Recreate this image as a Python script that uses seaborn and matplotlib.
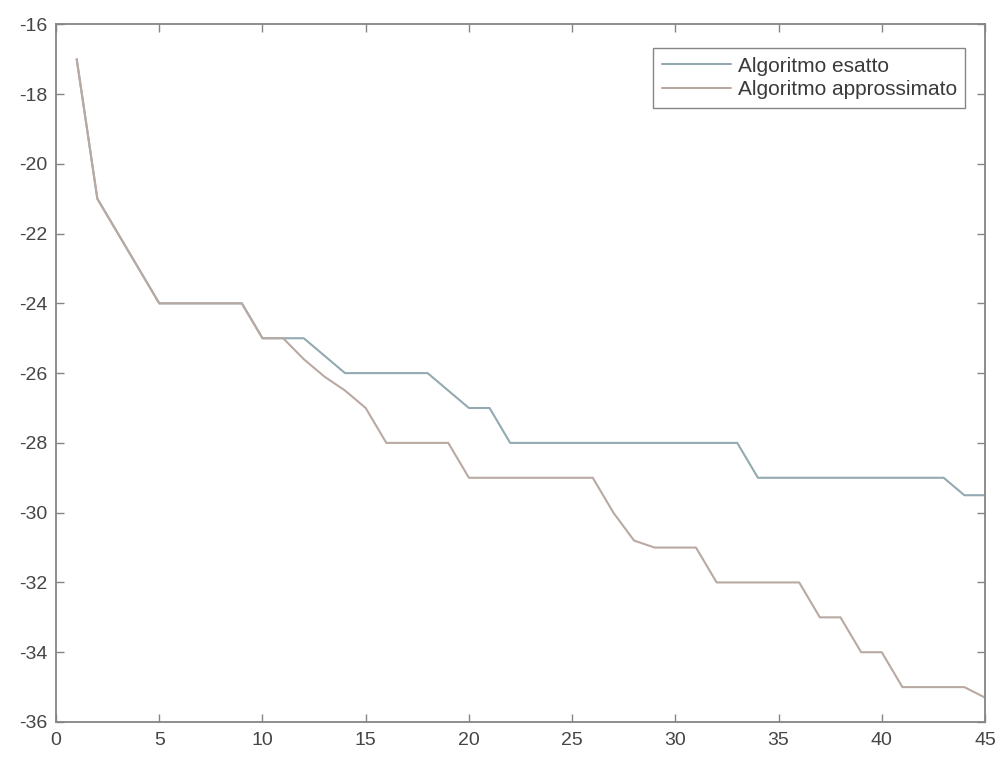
import numpy as np
import pandas as pd
import matplotlib
matplotlib.use("Agg")
import matplotlib.pyplot as plt
import seaborn as sns

# Iterations and objective values for the two algorithms
iterazioni = list(range(1, 46))
esatto = [-17, -21, -22, -23, -24, -24, -24, -24, -24, -25, -25, -25,
          -25.5, -26, -26, -26, -26, -26, -26.5, -27, -27,
          -28, -28, -28, -28, -28, -28, -28, -28, -28, -28, -28, -28,
          -29, -29, -29, -29, -29, -29, -29, -29, -29, -29,
          -29.5, -29.5]
approssimato = [-17, -21, -22, -23, -24, -24, -24, -24, -24, -25, -25,
                -25.6, -26.1, -26.5, -27,
                -28, -28, -28, -28,
                -29, -29, -29, -29, -29, -29, -29,
                -30, -30.8,
                -31, -31, -31,
                -32, -32, -32, -32, -32,
                -33, -33, -34, -34,
                -35, -35, -35, -35, -35.3]
etichette = ["Algoritmo esatto", "Algoritmo approssimato"]
x_ticks = list(range(0, 46, 5))
y_ticks = list(range(-36, -15, 2))

df = pd.DataFrame({
    "iterazione": iterazioni * 2,
    "valore": esatto + approssimato,
    "serie": [etichette[0]] * len(esatto) + [etichette[1]] * len(approssimato),
})

sns.set_style("white")
plt.rcParams["font.family"] = ["Liberation Sans", "DejaVu Sans"]
plt.rcParams["axes.unicode_minus"] = False

fig = plt.figure(figsize=(10.01, 7.58), dpi=100)
ax = fig.add_axes([0.056, 0.0475, 0.928, 0.9205])

palette = {etichette[0]: "#93aab0", etichette[1]: "#b9a9a3"}
sns.lineplot(data=df, x="iterazione", y="valore", hue="serie",
             hue_order=etichette, palette=palette, linewidth=1.5, ax=ax)

ax.set_xlim(0, 45)
ax.set_ylim(-36, -16)
ax.set_xticks(x_ticks)
ax.set_yticks(y_ticks)
ax.set_xlabel("")
ax.set_ylabel("")

for s in ax.spines.values():
    s.set_visible(True)
    s.set_color("#858585")
    s.set_linewidth(1.3)

ax.tick_params(direction="in", length=6, width=1.0, color="#858585",
               labelsize=14, labelcolor="#454545",
               top=True, right=True, bottom=True, left=True)
ax.tick_params(axis="y", pad=6)
ax.tick_params(axis="x", pad=7)

leg = ax.legend(loc="upper right", bbox_to_anchor=(0.9785, 0.9656),
                borderaxespad=0, frameon=True, fancybox=False,
                framealpha=1, edgecolor="#858585", fontsize=15,
                handlelength=3.35, handletextpad=0.3, borderpad=0.4,
                labelspacing=0.22)
leg.get_frame().set_linewidth(1.0)
for t in leg.get_texts():
    t.set_color("#3a3a3a")

fig.savefig("out.png", dpi=100, facecolor="white")
